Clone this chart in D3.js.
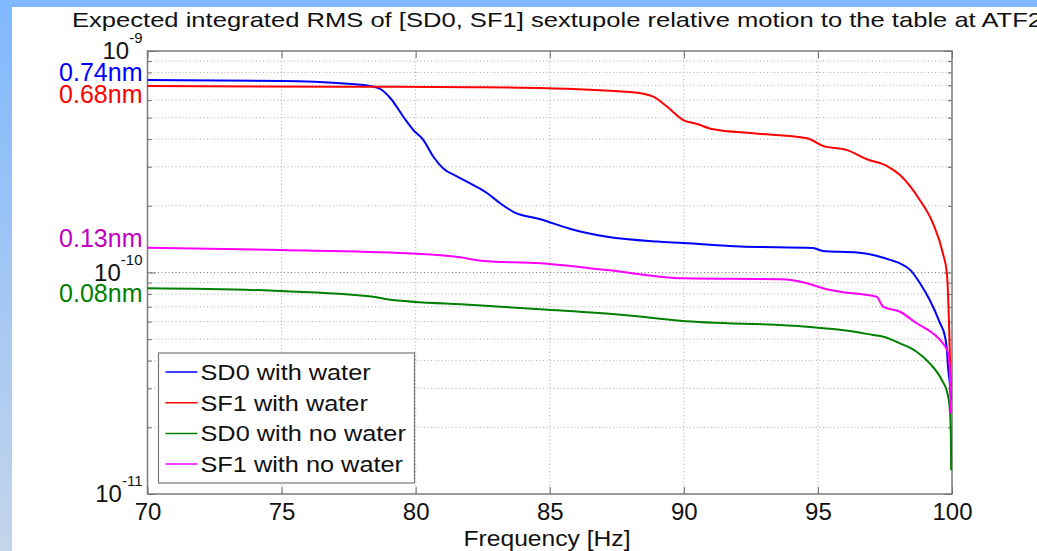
<!DOCTYPE html>
<html>
<head>
<meta charset="utf-8">
<script src="https://cdn.jsdelivr.net/npm/d3@7"></script>
<style>
  body { margin: 0; background: #fff; }
  text { font-family: "Liberation Sans", Arial, sans-serif; }
</style>
</head>
<body>
<svg id="chart" width="1037" height="551"></svg>
<script>
// values, frequency in Hz and integrated RMS in nm
var sd0WaterFreq = [70, 75, 77.2, 78.3, 78.7, 79.06, 79.54, 79.91, 80.29, 80.66, 81.03, 81.55, 82.15, 82.67, 83.16, 83.64, 84.65, 85.88, 87.14, 89.01, 89.98, 92.1, 94.82, 95.19, 96.46, 97.06, 97.69, 98.06, 98.43, 98.8, 99.17, 99.55, 99.74, 99.81, 99.85, 99.93, 99.96];
var sd0WaterNm = [0.74, 0.732, 0.715, 0.695, 0.672, 0.612, 0.505, 0.44, 0.396, 0.333, 0.295, 0.271, 0.248, 0.228, 0.205, 0.188, 0.174, 0.156, 0.145, 0.138, 0.136, 0.131, 0.129, 0.125, 0.123, 0.120, 0.114, 0.110, 0.103, 0.0897, 0.0751, 0.0592, 0.0513, 0.0447, 0.0376, 0.0305, 0.0266];

var sf1WaterFreq = [70, 77.2, 82.15, 84.9, 88.1, 88.86, 89.38, 89.98, 90.5, 91.09, 92.58, 94.59, 95.19, 96.09, 96.83, 97.58, 98.06, 98.8, 99.29, 99.66, 99.81, 99.86, 99.9, 99.93, 99.96];
var sf1WaterNm = [0.695, 0.690, 0.686, 0.679, 0.651, 0.622, 0.560, 0.488, 0.468, 0.443, 0.425, 0.404, 0.373, 0.357, 0.3245, 0.3025, 0.2756, 0.2125, 0.1668, 0.1221, 0.0992, 0.0751, 0.0533, 0.0376, 0.0305];

var sd0DryFreq = [70, 74.71, 78.43, 78.93, 82.16, 84.65, 87.75, 89.86, 94.59, 96.2, 97.07, 97.44, 98.06, 98.68, 99.17, 99.62, 99.83, 99.93, 99.96, 99.97];
var sd0DryNm = [0.0849, 0.0827, 0.0777, 0.0757, 0.0713, 0.0682, 0.0643, 0.0606, 0.0569, 0.0544, 0.0522, 0.0513, 0.0479, 0.0439, 0.0389, 0.0327, 0.0285, 0.0231, 0.0175, 0.0128];

var sf1DryFreq = [70, 74.96, 79.68, 81.66, 82.52, 84.65, 87.13, 89.98, 93.59, 94.59, 95.19, 95.83, 97.19, 97.43, 98.06, 98.68, 99.29, 99.66, 99.86, 99.93, 99.96];
var sf1DryNm = [0.1294, 0.1263, 0.1221, 0.1171, 0.1127, 0.110, 0.1026, 0.0941, 0.0932, 0.0894, 0.0849, 0.0819, 0.0777, 0.0701, 0.0665, 0.059, 0.0531, 0.0479, 0.0432, 0.0327, 0.0231];

var seriesNames = ["SD0 with water", "SF1 with water", "SD0 with no water", "SF1 with no water"];
var seriesColors = ["#0000ff", "#ff0000", "#008000", "#ff00ff"];

var startLabels = ["0.74nm", "0.68nm", "0.13nm", "0.08nm"];
var startLabelValues = [0.74, 0.68, 0.13, 0.08];
var startLabelColors = ["#0000ff", "#ff0000", "#c000c0", "#008000"];

var xTicks = [70, 75, 80, 85, 90, 95, 100];
var yDecades = [-11, -10, -9];

var title = "Expected integrated RMS of [SD0, SF1] sextupole relative motion to the table at ATF2";
var xLabel = "Frequency [Hz]";

var series = [
    {freq: sd0WaterFreq, nm: sd0WaterNm},
    {freq: sf1WaterFreq, nm: sf1WaterNm},
    {freq: sd0DryFreq, nm: sd0DryNm},
    {freq: sf1DryFreq, nm: sf1DryNm}
].map(function (s, i) {
    return {
        name: seriesNames[i],
        color: seriesColors[i],
        points: s.freq.map(function (f, j) { return {f: f, v: s.nm[j] * 1e-9}; })
    };
});

var svg = d3.select("#chart"),
    margin = {top: 51, right: 85, bottom: 57, left: 147.5},
    width = 1037 - margin.left - margin.right,
    height = 551 - margin.top - margin.bottom;

// slide background: blue strip on the top and a fading one on the left
var grad = svg.append("defs").append("linearGradient")
    .attr("id", "side").attr("x1", 0).attr("y1", 0).attr("x2", 0).attr("y2", 1);
grad.append("stop").attr("offset", "0%").attr("stop-color", "#7fb8fe");
grad.append("stop").attr("offset", "100%").attr("stop-color", "#c3d5ea");
svg.append("rect").attr("width", 12).attr("height", 551).attr("fill", "url(#side)");
svg.append("rect").attr("width", 1037).attr("height", 7).attr("fill", "#80b9ff");

var x = d3.scaleLinear().domain([70, 100]).range([0, width]);
var y = d3.scaleLog().domain([1e-11, 1e-9]).range([height, 0]);

var g = svg.append("g")
    .attr("transform", "translate(" + margin.left + "," + margin.top + ")");

// minor and major tick values on the log axis
var yAll = [];
for (var e = -11; e < -9; e++) {
    for (var m = 1; m < 10; m++) yAll.push(m * Math.pow(10, e));
}
yAll.push(1e-9);
var yMinor = yAll.filter(function (d) { return Math.abs(Math.log10(d) - Math.round(Math.log10(d))) > 1e-6; });

// grid
g.append("g").selectAll("line")
    .data(yAll.slice(1, -1)).enter().append("line")
    .attr("x1", 0).attr("x2", width)
    .attr("y1", function (d) { return y(d); }).attr("y2", function (d) { return y(d); })
    .attr("stroke", function (d) { return yMinor.indexOf(d) < 0 ? "#777" : "#aaa"; })
    .attr("stroke-dasharray", "1,2.5");
g.append("g").selectAll("line")
    .data(xTicks.slice(1, -1)).enter().append("line")
    .attr("y1", 0).attr("y2", height)
    .attr("x1", function (d) { return x(d); }).attr("x2", function (d) { return x(d); })
    .attr("stroke", "#aaa")
    .attr("stroke-dasharray", "1,2.5");

// axes, MATLAB style ticks pointing inwards
var xb = g.append("g").attr("transform", "translate(0," + height + ")")
    .call(d3.axisBottom(x).tickValues(xTicks).tickSizeInner(-7).tickSizeOuter(0).tickPadding(9));
var xt = g.append("g")
    .call(d3.axisTop(x).tickValues(xTicks).tickSizeInner(-7).tickSizeOuter(0).tickFormat(""));
var yl = g.append("g")
    .call(d3.axisLeft(y).tickValues(yAll).tickSizeInner(-4).tickSizeOuter(0).tickFormat(""));
var yr = g.append("g").attr("transform", "translate(" + width + ",0)")
    .call(d3.axisRight(y).tickValues(yAll).tickSizeInner(-4).tickSizeOuter(0).tickFormat(""));
[yl, yr].forEach(function (ax) {
    ax.selectAll(".tick line").filter(function (d) { return yMinor.indexOf(d) < 0; })
        .attr("x2", ax === yl ? 8 : -8);
});
[xb, xt, yl, yr].forEach(function (ax) {
    ax.select(".domain").remove();
    ax.selectAll(".tick line").attr("stroke", "#666");
});
xb.selectAll(".tick text")
    .attr("font-size", "24px")
    .attr("fill", "#111")
    .style("font-family", "'Liberation Sans', Arial, sans-serif");

g.append("rect")
    .attr("width", width).attr("height", height)
    .attr("fill", "none").attr("stroke", "#7a7a7a").attr("stroke-width", 1.5);

// y tick labels 10^n
var yLab = g.append("g").selectAll("text")
    .data(yDecades).enter().append("text")
    .attr("x", -5)
    .attr("y", function (d) { return y(Math.pow(10, d)) + 8; })
    .attr("text-anchor", "end")
    .attr("fill", "#111")
    .attr("font-size", "24px");
yLab.append("tspan").text("10");
yLab.append("tspan").attr("dy", -16).attr("font-size", "15px")
    .text(function (d) { return String(d); });

// curves
var line = d3.line()
    .curve(d3.curveMonotoneX)
    .x(function (d) { return x(d.f); })
    .y(function (d) { return y(d.v); });

g.append("g").selectAll("path")
    .data(series).enter().append("path")
    .attr("d", function (d) { return line(d.points); })
    .attr("fill", "none")
    .attr("stroke", function (d) { return d.color; })
    .attr("stroke-width", 2)
    .attr("stroke-linejoin", "round");

// value labels at the left of the axis
var labelShift = [1, 15, 0, 8];
g.append("g").selectAll("text")
    .data(startLabels).enter().append("text")
    .attr("x", -5)
    .attr("y", function (d, i) { return y(startLabelValues[i] * 1e-9) + labelShift[i]; })
    .attr("text-anchor", "end")
    .attr("font-size", "25px")
    .attr("fill", function (d, i) { return startLabelColors[i]; })
    .text(function (d) { return d; });

// legend
var legend = g.append("g").attr("transform", "translate(11,302)");
legend.append("rect")
    .attr("width", 256).attr("height", 130)
    .attr("fill", "#fff").attr("stroke", "#777").attr("stroke-width", 1.2);
var item = legend.selectAll(".item")
    .data(series).enter().append("g")
    .attr("transform", function (d, i) { return "translate(0," + (19 + i * 30.7) + ")"; });
item.append("line")
    .attr("x1", 7).attr("x2", 39)
    .attr("stroke", function (d) { return d.color; })
    .attr("stroke-width", 1.5);
item.append("text")
    .attr("x", 42).attr("y", 8)
    .attr("font-size", "22px")
    .attr("fill", "#111")
    .text(function (d) { return d.name; })
    .each(function () {
        var w = this.getComputedTextLength();
        d3.select(this).attr("textLength", w * 1.15).attr("lengthAdjust", "spacingAndGlyphs");
    });

// titles
svg.append("text")
    .attr("x", 72).attr("y", 27)
    .attr("font-size", "21px")
    .attr("fill", "#111")
    .attr("textLength", 970).attr("lengthAdjust", "spacingAndGlyphs")
    .text(title);

svg.append("text")
    .attr("x", 547).attr("y", 546)
    .attr("text-anchor", "middle")
    .attr("font-size", "22px")
    .attr("fill", "#111")
    .attr("textLength", 167).attr("lengthAdjust", "spacingAndGlyphs")
    .text(xLabel);
</script>
</body>
</html>
